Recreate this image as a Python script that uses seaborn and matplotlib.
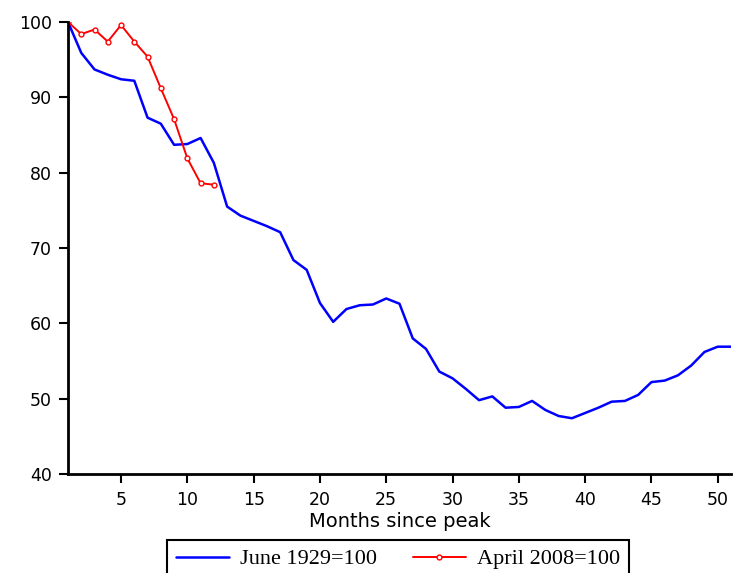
import matplotlib
matplotlib.use("Agg")
import matplotlib.pyplot as plt
import seaborn as sns
import pandas as pd

# Index levels (peak month = 100)
months_1929 = list(range(1, 52))
index_1929 = [100.0, 95.9, 93.7, 93.0, 92.4, 92.2, 87.3, 86.5, 83.7, 83.8,
              84.6, 81.3, 75.5, 74.3, 73.6, 72.9, 72.1, 68.4, 67.1, 62.7,
              60.2, 61.9, 62.4, 62.5, 63.3, 62.6, 58.0, 56.6, 53.6, 52.7,
              51.3, 49.8, 50.3, 48.8, 48.9, 49.7, 48.5, 47.7, 47.4, 48.1,
              48.8, 49.6, 49.7, 50.5, 52.2, 52.4, 53.1, 54.4, 56.2, 56.9,
              56.9]
months_2008 = list(range(1, 13))
index_2008 = [100.0, 98.4, 99.0, 97.4, 99.6, 97.4, 95.4, 91.2, 87.1, 81.9,
              78.6, 78.4]

label_1929 = "June 1929=100"
label_2008 = "April 2008=100"
x_title = "Months since peak"
x_ticks = [5, 10, 15, 20, 25, 30, 35, 40, 45, 50]
y_ticks = [40, 50, 60, 70, 80, 90, 100]

sns.set_style("ticks")
plt.rcParams["font.family"] = ["DejaVu Sans"]
plt.rcParams["text.color"] = "black"
plt.rcParams["axes.labelcolor"] = "black"

df_1929 = pd.DataFrame({"month": months_1929, "index": index_1929})
df_2008 = pd.DataFrame({"month": months_2008, "index": index_2008})

fig = plt.figure(figsize=(7.33, 5.73), dpi=100)
ax = fig.add_axes([68 / 733, 1 - 474 / 573, (731 - 68) / 733, (474 - 22) / 573])

sns.lineplot(data=df_1929, x="month", y="index", ax=ax, color="#0000ff",
             linewidth=1.8, label=label_1929)
sns.lineplot(data=df_2008, x="month", y="index", ax=ax, color="#ff0000",
             linewidth=1.4, marker="o", markersize=3.5,
             markerfacecolor="white", markeredgecolor="#ff0000",
             markeredgewidth=1.0, label=label_2008)

ax.set_xlim(1, 51)
ax.set_ylim(40, 100)
ax.set_xticks(x_ticks)
ax.set_yticks(y_ticks)
ax.set_xlabel(x_title, fontsize=14, labelpad=2, color="black")
ax.set_ylabel("")
ax.tick_params(axis="both", direction="out", length=6.5, width=1.5,
               labelsize=12.5, colors="black", pad=5)
ax.tick_params(axis="x", pad=6)
for side in ("top", "right"):
    ax.spines[side].set_visible(False)
for side in ("left", "bottom"):
    ax.spines[side].set_linewidth(2)
    ax.spines[side].set_color("black")

ax.get_legend().remove()
handles, labels = ax.get_legend_handles_labels()
leg = fig.legend(handles, labels, loc="center", ncol=2,
                 bbox_to_anchor=(398 / 733, 1 - 559 / 573),
                 frameon=True, fancybox=False, edgecolor="black",
                 framealpha=1.0, handlelength=2.4, handletextpad=0.5,
                 columnspacing=1.6, borderaxespad=0.0,
                 prop={"family": "Liberation Serif", "size": 16})
leg.get_frame().set_linewidth(1.5)

fig.savefig("out.png", dpi=100)
